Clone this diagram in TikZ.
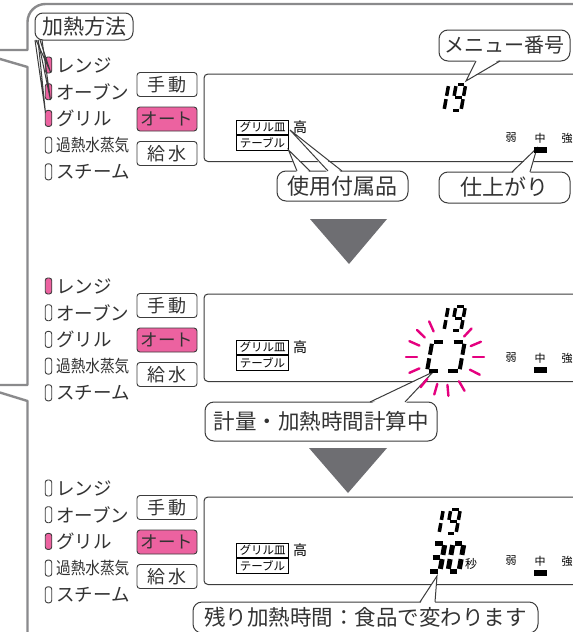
\documentclass[tikz,border=0pt]{standalone}
\usepackage{fontspec}
\usepackage{graphicx}
\setmainfont{Noto Sans CJK JP}
\definecolor{pinkf}{HTML}{EC62A0}
\definecolor{flash}{HTML}{E5007F}
\definecolor{framegray}{HTML}{8A8A8C}
\definecolor{trigray}{HTML}{6E6E72}
\definecolor{linegray}{HTML}{3C3C3C}
\definecolor{txt}{HTML}{333333}
\tikzset{
  frameline/.style={draw=framegray, line width=2.4pt, line join=round},
  ind/.style={draw=linegray, line width=0.9pt, rounded corners=2.5pt, minimum width=6.5pt, minimum height=16pt, inner sep=0pt},
  indon/.style={ind, fill=pinkf},
  indoff/.style={ind, fill=white},
  rowtxt/.style={anchor=west, inner sep=0pt, font=\fontsize{18.5}{18.5}\selectfont, text=txt},
  btn/.style={draw=linegray, line width=0.9pt, rounded corners=3pt, minimum width=60pt, minimum height=24pt, inner sep=0pt, font=\fontsize{18}{18}\selectfont, text=txt},
  btnon/.style={btn, fill=pinkf},
  disp/.style={draw=linegray, line width=1pt, rounded corners=4pt},
  lbl/.style={draw=black, line width=0.8pt, inner sep=0pt, minimum height=14pt, minimum width=52pt, font=\fontsize{11.5}{11.5}\selectfont},
  small/.style={inner sep=0pt, font=\fontsize{11}{11}\selectfont},
  callout/.style={draw=linegray, fill=white, line width=1pt, rounded corners=9pt, inner sep=0pt, font=\fontsize{21}{21}\selectfont, text=txt},
  segl/.style={line width=\T pt, line cap=butt},
  tri/.style={fill=trigray},
  ptrline/.style={draw=linegray, line width=1pt, line join=miter},
  flashline/.style={draw=flash, line width=2.4pt, line cap=round},
}
\newcommand\sgA{\draw[segl] (\G,-\H) -- ({\W-\G},-\H);}
\newcommand\sgB{\draw[segl] (\W,{-\H+\G}) -- (\W,{-\H/2-\G});}
\newcommand\sgC{\draw[segl] (\W,{-\H/2+\G}) -- (\W,-\G);}
\newcommand\sgD{\draw[segl] (\G,0) -- ({\W-\G},0);}
\newcommand\sgE{\draw[segl] (0,-\G) -- (0,{-\H/2+\G});}
\newcommand\sgF{\draw[segl] (0,{-\H/2-\G}) -- (0,{-\H+\G});}
\newcommand\sgG{\draw[segl] (\G,{-\H/2}) -- ({\W-\G},{-\H/2});}
% x, ybottom, W, H, thickness, segments
\newcommand\segdigit[6]{%
  \begin{scope}[shift={(#1,#2)}, xslant=0.18]
    \def\W{#3}\def\H{#4}\def\T{#5}%
    \pgfmathsetmacro\G{#5*0.3+0.6}%
    #6
  \end{scope}}
% pointer: x1, x2, ybase, inward offset, tipx, tipy
\newcommand\ptr[6]{%
  \fill[white] (#1,{#3+#4}) -- (#5,#6) -- (#2,{#3+#4}) -- cycle;
  \draw[ptrline] (#1,#3) -- (#5,#6) -- (#2,#3);}
% suffix, first row y, five indicator styles
\newcommand\leftpanel[7]{%
  \node[#3] (ia#1) at (48.5,#2) {};
  \node[#4] (ib#1) at (48.5,{#2+26.7}) {};
  \node[#5] (ic#1) at (48.5,{#2+53.4}) {};
  \node[#6] (id#1) at (48.5,{#2+80.1}) {};
  \node[#7] (ie#1) at (48.5,{#2+106.8}) {};
  \node[rowtxt] (ta#1) at (56,#2) {レンジ};
  \node[rowtxt] (tb#1) at (56,{#2+26.7}) {オーブン};
  \node[rowtxt] (tc#1) at (56,{#2+53.4}) {グリル};
  \node[rowtxt] (td#1) at (56,{#2+80.1}) {\scalebox{0.86}[1]{\fontsize{17}{17}\selectfont 過熱水蒸気}};
  \node[rowtxt] (te#1) at (56,{#2+106.8}) {スチーム};
  \node[btn] (ba#1) at (167,{#2+19.5}) {手\hspace{3pt}動};
  \node[btnon] (bb#1) at (167,{#2+54}) {\fontsize{17.5}{17.5}\selectfont オート};
  \node[btn] (bc#1) at (167,{#2+88.5}) {給\hspace{3pt}水};}
% suffix, top y
\newcommand\display[2]{%
  \draw[disp] (204,#2) rectangle (600,{#2+87.5});
  \node[lbl] (gl#1) at (262.5,{#2+53}) {グリル皿};
  \node[lbl, minimum height=15pt] (tl#1) at (262.5,{#2+68.5}) {テーブル};
  \node[small, font=\fontsize{14}{14}\selectfont] (hk#1) at (300,{#2+53}) {高};
  \node[small] (wk#1) at (511,{#2+64}) {弱};
  \node[small] (md#1) at (540,{#2+64}) {中};
  \node[small] (st#1) at (567,{#2+64}) {強};}
\begin{document}
\begin{tikzpicture}[x=1pt, y=-1pt]
\useasboundingbox (0,0) rectangle (573,632);
\clip (0,0) rectangle (573,632);
\fill[white] (0,0) rectangle (573,632);
% outer frame
\draw[frameline] (-5,50) -- (27.5,50) -- (27.5,22) arc[start angle=180, end angle=270, radius=18] -- (600,4);
\draw[frameline] (-5,57.5) -- (27.5,67) -- (27.5,385) -- (-5,385);
\draw[frameline] (-5,391) -- (27.5,401) -- (27.5,640);
% panels
\leftpanel{1}{65}{indon}{indon}{indon}{indoff}{indoff}
\leftpanel{2}{286}{indon}{indoff}{indoff}{indoff}{indoff}
\leftpanel{3}{488}{indoff}{indoff}{indon}{indoff}{indoff}
\display{1}{74}
\display{2}{294}
\display{3}{497}
% arrows
\fill[tri] (310,219) -- (387,219) -- (349,264) -- cycle;
\fill[tri] (309,448) -- (387,448) -- (348,493) -- cycle;
% callouts
\node[callout, rounded corners=8pt, minimum width=98pt, minimum height=27pt] (c1) at (84,26.5) {加熱方法};
\draw[ptrline] (36,40) -- (50.5,72) -- (40,40);
\draw[ptrline] (38,40) -- (50.5,100) -- (42,40);
\draw[ptrline] (35,40) -- (45.5,113) -- (38,40);
\node[callout, minimum width=131pt, minimum height=31pt, font=\fontsize{20}{20}\selectfont] (c2) at (504.5,45.5) {メニュー番号};
\ptr{476}{500}{61}{-2}{466}{81}
\node[callout, minimum width=131pt, minimum height=30pt, font=\fontsize{22}{22}\selectfont] (c3) at (342.5,186) {使用付属品};
\ptr{297}{310}{171}{2}{288.5}{150}
\ptr{328}{342}{171}{2}{290}{130}
\node[callout, minimum width=131pt, minimum height=31pt, font=\fontsize{22}{22}\selectfont] (c4) at (504.5,187.5) {仕上がり};
\ptr{512}{530}{172}{2}{537}{148}
\node[callout, minimum width=232pt, minimum height=39pt, font=\fontsize{21.5}{21.5}\selectfont] (c5) at (321,421.5) {計量・加熱時間計算中};
\ptr{370}{405}{402}{2}{433}{372}
\node[callout, minimum width=345pt, minimum height=31pt, font=\fontsize{21.5}{21.5}\selectfont] (c6) at (365.5,617.5) {残り加熱時間：食品で変わります};
\ptr{420}{435}{602}{2}{437}{576}
% strength markers
\fill (534,147) rectangle (547,153);
\fill (534,367) rectangle (547,373);
\fill (534,570) rectangle (547,576);
% flashing
\foreach \a in {47,23,0,-27,-60,-85,-106,-129,-156,180,156,136,114}
  \draw[flashline] ({445+28*cos(\a)},{357-28*sin(\a)}) -- ({445+39*cos(\a)},{357-39*sin(\a)});
% digits
\segdigit{434.5}{110.5}{9.5}{26}{3.5}{\sgB\sgC}
\segdigit{451.5}{110.5}{9.5}{26}{3.5}{\sgA\sgB\sgC\sgD\sgF\sgG}
\segdigit{434.5}{330.5}{9.5}{24}{3.5}{\sgB\sgC}
\segdigit{451.5}{330.5}{9.5}{24}{3.5}{\sgA\sgB\sgC\sgD\sgF\sgG}
\segdigit{427}{371}{13}{29}{4}{\sgA\sgF\sgE\sgD}
\segdigit{446.5}{371}{13}{29}{4}{\sgA\sgB\sgC\sgD}
\segdigit{429.5}{533.5}{9.5}{24}{3.5}{\sgB\sgC}
\segdigit{446.5}{533.5}{9.5}{24}{3.5}{\sgA\sgB\sgC\sgD\sgF\sgG}
\segdigit{428}{571}{12}{28}{5}{\sgA\sgB\sgC\sgD\sgG}
\segdigit{448}{571}{11}{28}{5}{\sgA\sgB\sgC\sgD\sgE\sgF}
\node[small, font=\fontsize{12}{12}\selectfont] (sec) at (471,564) {秒};
\end{tikzpicture}
\end{document}
